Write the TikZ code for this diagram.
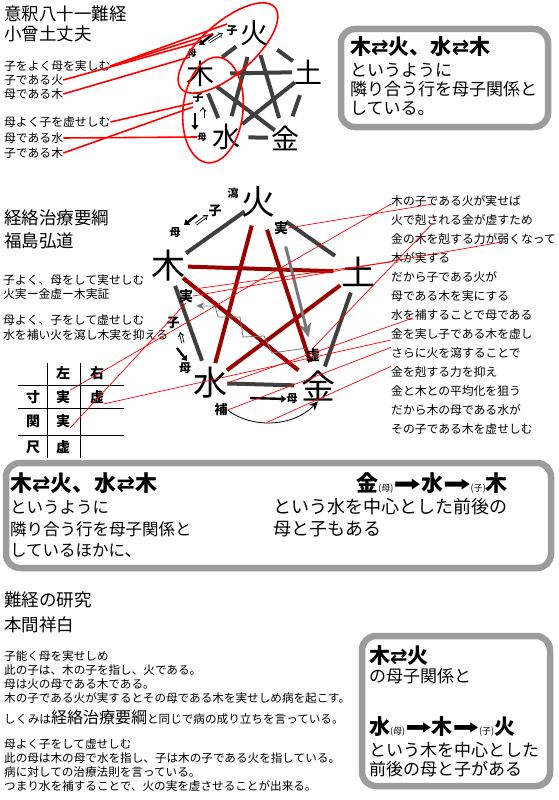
\documentclass[tikz,border=0pt]{standalone}
\usepackage{fontspec}
\usepackage{graphicx}
\setmainfont{Noto Sans CJK JP}
\newfontfamily\symfont{DejaVu Sans}
\usetikzlibrary{arrows.meta,calc,positioning}
\definecolor{DarkRed}{HTML}{990000}
\definecolor{EdgeGrey}{HTML}{404040}
\definecolor{ArrowGrey}{HTML}{777777}
\definecolor{PanelGrey}{HTML}{9C9C9C}
\newcommand{\twoway}{{\symfont ⇄}}
\newcommand{\heavyarr}{\scalebox{1.5}[1]{\symfont\mdseries ➡}}
\newcommand{\parenlab}[1]{{\fontsize{9}{9}\selectfont\mdseries(#1)}}

\tikzset{
  every node/.style={inner sep=0pt},
  heading/.style={anchor=west,font=\fontsize{17.5}{17.5}\selectfont},
  note/.style={anchor=west,font=\fontsize{11.8}{11.8}\selectfont},
  bodynote/.style={anchor=west,font=\fontsize{11.6}{11.6}\selectfont},
  elemA/.style={font=\fontsize{28}{28}\selectfont},
  elemB/.style={font=\fontsize{34}{34}\selectfont},
  tagbig/.style={font=\bfseries\fontsize{13}{13}\selectfont},
  ringline/.style={EdgeGrey,line width=4pt},
  starline/.style={DarkRed,line width=4pt},
  redlink/.style={red,line width=1.6pt},
  redthin/.style={red,line width=0.7pt},
  solidarr/.style={line width=2.4pt,-{Triangle[length=5pt,width=7pt]}},
  hollowarr/.style={double,double distance=1.4pt,line width=0.8pt,-{Implies}},
  greyarr/.style={ArrowGrey,line width=3pt,-{Stealth[length=14pt,width=12pt,inset=4pt]}},
  zigline/.style={ArrowGrey,line width=0.8pt,-{Stealth[length=8pt,width=7pt]}},
  panel/.style={draw=PanelGrey,line width=6.5pt,rounded corners=14pt,fill=white},
  boxhead/.style={anchor=west,font=\bfseries\fontsize{22}{22}\selectfont},
  boxtext/.style={anchor=west,font=\fontsize{17}{17}\selectfont},
  cell/.style={font=\bfseries\fontsize{14}{14}\selectfont},
  gridline/.style={line width=0.9pt},
}

\begin{document}
\begin{tikzpicture}[x=1pt,y=-1pt]
\useasboundingbox (0,0) rectangle (559,800);

% ---------- 意釈八十一難経
\node[heading] (t1a) at (4,14) {意釈八十一難経};
\node[heading] (t1b) at (4,34) {小曾土丈夫};
\node[note] (q1) at (4,66) {子をよく母を実しむ};
\node[note] (q2) at (4,80) {子である火};
\node[note] (q3) at (4,94) {母である木};
\node[note] (q4) at (4,122) {母よく子を虚せしむ};
\node[note] (q5) at (4,138) {母である水};
\node[note] (q6) at (4,153) {子である木};

\node[elemA] (ka1) at (254,33) {火};
\node[elemA] (mo1) at (200,74) {木};
\node[elemA] (do1) at (308,72) {土};
\node[elemA] (su1) at (226,137) {水};
\node[elemA] (ki1) at (285,138) {金};

\foreach \a/\b/\p/\q in {ka1/mo1/.33/.59, ka1/do1/.43/.72, do1/ki1/.35/.67, ki1/su1/.29/.62, su1/mo1/.30/.69,
    mo1/do1/.28/.85, ka1/su1/.23/.80, ka1/ki1/.21/.81, mo1/ki1/.20/.88, do1/su1/.16/.80}
  \draw[ringline] ($(\a)!\p!(\b)$) -- ($(\a)!\q!(\b)$);

\node[font=\bfseries\fontsize{11}{11}\selectfont] (ko1) at (232,31) {子};
\node[font=\bfseries\fontsize{9}{9}\selectfont] (ha1) at (192,53) {母};
\node[font=\bfseries\fontsize{11}{11}\selectfont] (ko2) at (198,98) {子};
\node[font=\bfseries\fontsize{9}{9}\selectfont] (ha2) at (202,137) {母};
\draw[solidarr] ($(ko1)+(-19,3)$) -- ($(ha1)+(7,-8)$);
\draw[hollowarr] ($(ha1)+(17,-11)$) -- ($(ko1)+(-9,2)$);
\draw[hollowarr] ($(ha2)+(1,-19)$) -- ($(ko2)+(5,9)$);
\draw[solidarr] ($(ko2)+(-3,15)$) -- ($(ha2)+(-7,-7)$);

\draw[redlink] (228,48) ellipse [x radius=62, y radius=26, rotate=41];
\draw[redlink] (213,110) ellipse [x radius=30, y radius=53, rotate=-6];
\draw[redlink] (q1.east) -- ($(ko1)+(-5,-7)$);
\draw[redlink] (q1.east) -- ($(ko1)+(-20,3)$);
\draw[redlink] (q2.east) -- ($(ha1)+(8,-11)$);
\draw[redlink] (q3.east) -- ($(ha1)+(-2,4)$);
\draw[redlink] (q4.east) -- ($(ko2)+(-5,5)$);
\draw[redlink] (q5.east) -- (ha2.west);
\draw[redlink] (q6.east) -- ($(ko2)+(-5,9)$);

\draw[panel] (341,29) rectangle (548,127);
\node[boxhead,font=\bfseries\fontsize{21}{21}\selectfont] (b1h) at (350,47) {木\twoway 火、水\twoway 木};
\node[boxtext] (b1a) at (350,70) {というように};
\node[boxtext] (b1b) at (350,89) {隣り合う行を母子関係と};
\node[boxtext] (b1c) at (350,108) {している。};

% ---------- 経絡治療要綱
\node[heading] (t2a) at (4,218) {経絡治療要綱};
\node[heading] (t2b) at (4,241) {福島弘道};
\node[note] (p1) at (3,280) {子よく、母をして実せしむ};
\node[note] (p2) at (3,294) {火実ー金虚ー木実証};
\node[note] (p3) at (3,320) {母よく、子をして虚せしむ};
\node[note] (p4) at (3,335) {水を補い火を瀉し木実を抑える};

\foreach \txt [count=\i] in {木の子である火が実せば, 火で剋される金が虚すため, 金の木を剋する力が弱くなって,
    木が実する, だから子である火が, 母である木を実にする, 水を補することで母である,
    金を実し子である木を虚し, さらに火を瀉することで, 金を剋する力を抑え,
    金と木との平均化を狙う, だから木の母である水が, その子である木を虚せしむ}
  \node[note] (r\i) at (391,{182+19*\i}) {\txt};

\node[elemB] (ka2) at (258,202) {火};
\node[elemB] (mo2) at (168,266) {木};
\node[elemB] (do2) at (358,272) {土};
\node[elemB] (su2) at (210,383) {水};
\node[elemB] (ki2) at (318,386) {金};

\foreach \a/\b/\p/\q in {ka2/mo2/.15/.80, ka2/do2/.28/.77, do2/ki2/.18/.83, su2/ki2/.16/.78, mo2/su2/.17/.81}
  \draw[ringline] ($(\a)!\p!(\b)$) -- ($(\a)!\q!(\b)$);
\foreach \a/\b/\p/\q in {mo2/do2/.105/.87, ka2/su2/.13/.89, ka2/ki2/.15/.87, mo2/ki2/.10/.87, do2/su2/.12/.885}
  \draw[starline] ($(\a)!\p!(\b)$) -- ($(\a)!\q!(\b)$);

\node[font=\bfseries\fontsize{11}{11}\selectfont] (sha) at (233,193) {瀉};
\node[tagbig] (ko3) at (215,211) {子};
\node[font=\bfseries\fontsize{11}{11}\selectfont] (ha3) at (175,233) {母};
\node[font=\bfseries\fontsize{14}{14}\selectfont] (jk) at (281,228) {実};
\node[font=\bfseries\fontsize{14}{14}\selectfont] (jm) at (186,296) {実};
\node[font=\bfseries\fontsize{14}{14}\selectfont] (kyo) at (313,355) {虚};
\node[tagbig] (ko4) at (173,323) {子};
\node[font=\bfseries\fontsize{12}{12}\selectfont] (ha4) at (185,368) {母};
\node[font=\bfseries\fontsize{11}{11}\selectfont] (ha5) at (292,399) {母};
\node[font=\bfseries\fontsize{13}{13}\selectfont] (ho) at (221,410) {補};

\draw[solidarr] ($(ko3)+(-18,4)$) -- ($(ha3)+(9,-8)$);
\draw[hollowarr] ($(ha3)+(21,-9)$) -- ($(ko3)+(-7,4)$);
\draw[hollowarr] ($(ha4)+(-2,-25)$) -- ($(ko4)+(7,9)$);
\draw[solidarr] ($(ko4)+(4,25)$) -- ($(ha4)+(2,-7)$);
\draw[solidarr] ($(su2)+(40,15)$) -- (ha5.west);

\draw[greyarr,shorten <=12pt,shorten >=11pt] (jk) -- (kyo);
\draw[zigline] (kyo.north west) -- (272,353) -- (264,336) -- (243,337) -- (240,317)
  -- (218,317) -- (215,306) -- ($(jm.south east)+(3,3)$);
\draw[line width=0.8pt,-{Stealth[length=9pt,width=8pt]}] (ho.east)
  .. controls (250,428) and (292,428) .. (ki2.south) coordinate[pos=.45] (cb);

% table
\draw[gridline] (47,363) -- (47,458);
\draw[gridline] (80,363) -- (80,458);
\draw[gridline] (18,385) -- (124,385);
\draw[gridline] (18,408) -- (124,408);
\draw[gridline] (18,435) -- (124,435);
\node[cell] (hl) at (63,373) {左};
\node[cell] (hr) at (97,373) {右};
\node[cell] (rs) at (33,397) {寸};
\node[cell] (c1) at (63,397) {実};
\node[cell] (c2) at (97,397) {虚};
\node[cell] (rk) at (33,421) {関};
\node[cell] (c3) at (63,421) {実};
\node[cell] (rj) at (33,447) {尺};
\node[cell] (c4) at (63,447) {虚};

\draw[redthin] (c1.north east) -- ($(r1.west)+(0,3)$);
\draw[redthin] ($(r1.west)+(42,3)$) -- (jk.east);
\draw[redthin] ($(r2.west)+(42,3)$) -- (kyo.north);
\draw[redthin] ($(r3.west)+(111,3)$) -- (jm.east);
\draw[redthin] ($(r4.west)+(0,4)$) -- (jm.north east);
\draw[redthin] (c3.south east) -- (jm.south);
\draw[redthin] (c2.south east) -- ($(r8.west)+(0,6)$);
\draw[redthin] ($(r7.west)+(22,3)$) -- (su2.east);
\draw[redthin] (ho.east) -- (r9.north west);
\draw[redthin] (cb) -- (r10.north west);

% ---------- summary box
\draw[panel] (6,463) rectangle (551,568);
\node[boxhead] (b3h) at (10,483) {木\twoway 火、水\twoway 木};
\node[boxtext,font=\fontsize{16.5}{16.5}\selectfont] (b3a) at (10,507) {というように};
\node[boxtext,font=\fontsize{16.5}{16.5}\selectfont] (b3b) at (10,529) {隣り合う行を母子関係と};
\node[boxtext,font=\fontsize{16.5}{16.5}\selectfont] (b3c) at (10,550) {しているほかに、};
\node[boxhead,anchor=east] (b3r) at (508,483) {金\parenlab{母}\heavyarr 水\heavyarr\parenlab{子}木};
\node[boxtext,font=\fontsize{18}{18}\selectfont] (b3d) at (273,507) {という水を中心とした前後の};
\node[boxtext,font=\fontsize{18}{18}\selectfont] (b3e) at (273,529) {母と子もある};

% ---------- 難経の研究
\node[heading] (t3a) at (4,600) {難経の研究};
\node[heading] (t3b) at (4,625) {本間祥白};
\node[bodynote] (n1) at (4,656) {子能く母を実せしめ};
\node[bodynote] (n2) at (4,670) {此の子は、木の子を指し、火である。};
\node[bodynote] (n3) at (4,684) {母は火の母である木である。};
\node[bodynote] (n4) at (4,698) {木の子である火が実するとその母である木を実せしめ病を起こす。};
\node[bodynote] (n5) at (4,717) {しくみは{\fontsize{16}{16}\selectfont 経絡治療要綱}と同じで病の成り立ちを言っている。};
\node[bodynote] (n6) at (4,744) {母よく子をして虚せしむ};
\node[bodynote] (n7) at (4,758) {此の母は木の母で水を指し、子は木の子である火を指している。};
\node[bodynote] (n8) at (4,772) {病に対しての治療法則を言っている。};
\node[bodynote] (n9) at (4,786) {つまり水を補することで、火の実を虚させることが出来る。};

\draw[panel] (362,636) rectangle (550,786);
\node[boxhead,font=\bfseries\fontsize{21}{21}\selectfont] (b4h) at (369,656) {木\twoway 火};
\node[boxtext] (b4a) at (369,676) {の母子関係と};
\node[boxhead,font=\bfseries\fontsize{21}{21}\selectfont] (b4r) at (369,727) {水\parenlab{母}\heavyarr 木\heavyarr\parenlab{子}火};
\node[boxtext] (b4b) at (369,750) {という木を中心とした};
\node[boxtext] (b4c) at (369,769) {前後の母と子がある};
\end{tikzpicture}
\end{document}
